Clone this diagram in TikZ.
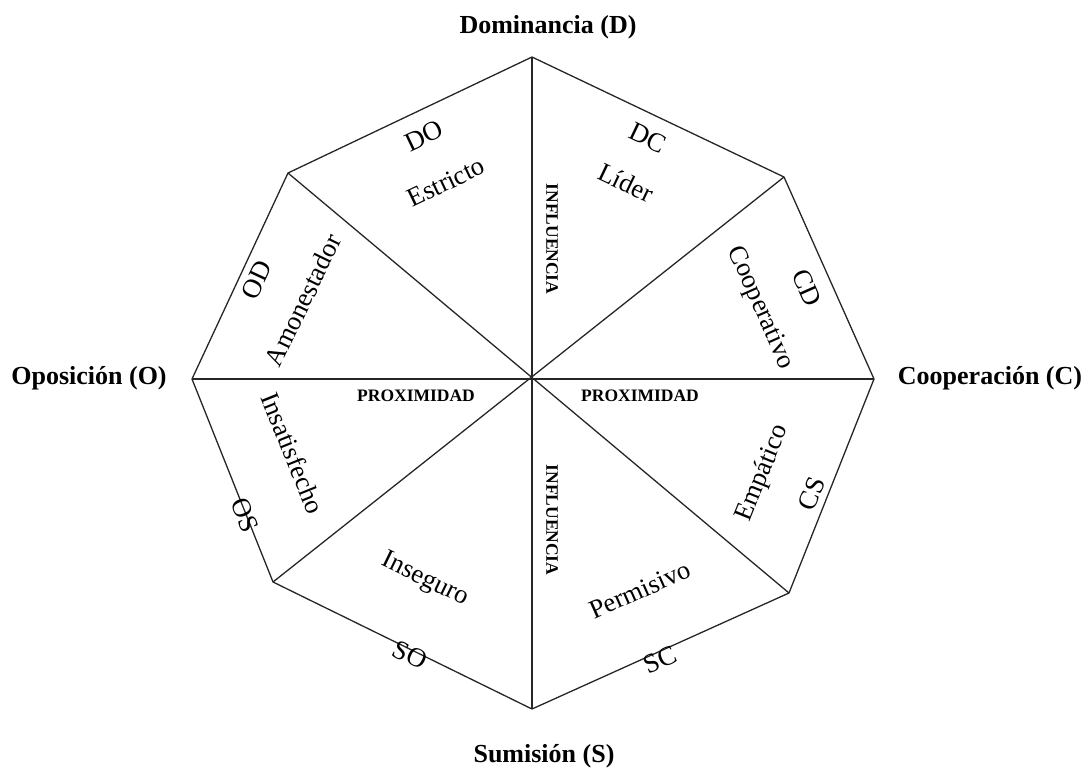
\documentclass[tikz,border=0pt]{standalone}
\usepackage{fontspec}
\setmainfont{Liberation Serif}
\begin{document}
\begin{tikzpicture}[x=1pt,y=-1pt,
  axislabel/.style={font=\bfseries\fontsize{26}{30}\selectfont, inner sep=0pt},
  sectorlabel/.style={font=\fontsize{26.5}{31}\selectfont, inner sep=0pt},
  codelabel/.style={font=\fontsize{27}{32}\selectfont, inner sep=0pt},
  dimlabel/.style={font=\bfseries\fontsize{17.5}{20}\selectfont, inner sep=0pt},
  outline/.style={draw=black!85, line width=1.3pt, line join=miter}]
\useasboundingbox (0,0) rectangle (1088,769);
% vertices
\coordinate (C) at (532,378);
\coordinate (vT) at (532,57);
\coordinate (vUR) at (784,177);
\coordinate (vR) at (874,379);
\coordinate (vLR) at (789,593);
\coordinate (vB) at (532,709);
\coordinate (vLL) at (273,582);
\coordinate (vL) at (192,379);
\coordinate (vUL) at (288,173);
% octagon
\draw[outline] (vT) -- (vUR) -- (vR) -- (vLR) -- (vB) -- (vLL) -- (vL) -- (vUL) -- cycle;
% spokes
\draw[outline] (vT) -- (vB);
\draw[outline] (vL) -- (vR);
\draw[outline] (vUL) -- (vLR);
\draw[outline] (vUR) -- (vLL);
% axis labels
\node[axislabel] (dom) at (548,27) {Dominancia (D)};
\node[axislabel] (opo) at (89,378) {Oposición (O)};
\node[axislabel] (coo) at (990,378) {Cooperación (C)};
\node[axislabel] (sum) at (544,756) {Sumisión (S)};
% dimension labels
\node[dimlabel, rotate=-90] (infU) at (552,239) {INFLUENCIA};
\node[dimlabel, rotate=-90] (infD) at (552,520) {INFLUENCIA};
\node[dimlabel] (proxL) at (416,396) {PROXIMIDAD};
\node[dimlabel] (proxR) at (640,396) {PROXIMIDAD};
% sector names
\node[sectorlabel, rotate=25.4] (estr) at (446,182) {Estricto};
\node[sectorlabel, rotate=-25.5] (lider) at (626,183) {Líder};
\node[sectorlabel, rotate=64] (amon) at (303,300) {Amonestador};
\node[sectorlabel, rotate=-66] (coop) at (760,308) {Cooperativo};
\node[sectorlabel, rotate=-68] (insat) at (293,453) {Insatisfecho};
\node[sectorlabel, rotate=68] (empa) at (763,473) {Empático};
\node[sectorlabel, rotate=-26] (inseg) at (425,580) {Inseguro};
\node[sectorlabel, rotate=24] (perm) at (640,590) {Permisivo};
% codes
\node[codelabel, rotate=25.4] (DO) at (424,136) {DO};
\node[codelabel, rotate=-25.5] (DC) at (648,138) {DC};
\node[codelabel, rotate=65] (OD) at (257,280) {OD};
\node[codelabel, rotate=-66] (CD) at (807,288) {CD};
\node[codelabel, rotate=-68] (OS) at (245,515) {OS};
\node[codelabel, rotate=68] (CS) at (812,494) {CS};
\node[codelabel, rotate=-26] (SO) at (410,655) {SO};
\node[codelabel, rotate=24] (SC) at (660,660) {SC};
\end{tikzpicture}
\end{document}
